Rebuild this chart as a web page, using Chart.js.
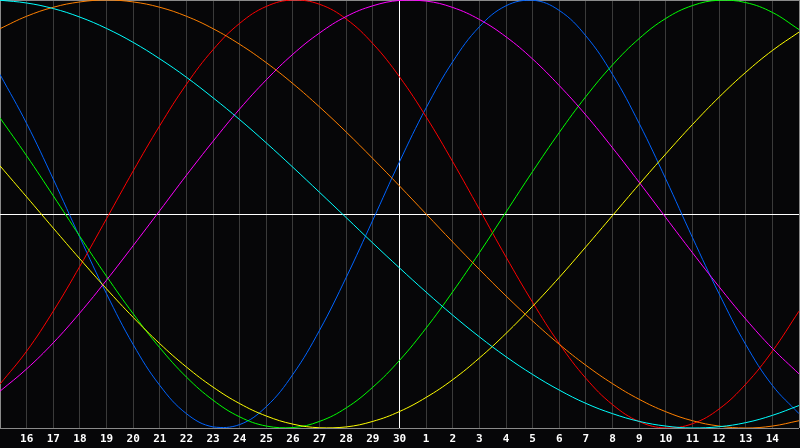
<!DOCTYPE html>
<html lang="en">

<head>
    <meta charset="UTF-8">
    <style>
        html, body { margin: 0; padding: 0; background: #060608; }
        #bio-chart { display: block; }
    </style>
</head>

<body>
    <script src="https://cdn.jsdelivr.net/npm/chart.js@4.4.1/dist/chart.umd.min.js"></script>
    <div style="width:800px;height:448px;">
        <canvas id="bio-chart" width="800" height="448"></canvas>
    </div>
</body>
<script>
    // day labels, 15th of one month to the 15th of the next
    var days = ["15", "16", "17", "18", "19", "20", "21", "22", "23", "24", "25", "26", "27", "28", "29", "30",
        "1", "2", "3", "4", "5", "6", "7", "8", "9", "10", "11", "12", "13", "14", "15"];
    var todayIndex = 15;

    // values, -100 .. 100, one per day
    var physical = [65.2, 42.3, 16.3, -11.0, -37.3, -61.0, -80.1, -93.3, -99.5, -98.4, -90.0, -74.9, -54.3, -29.6, -2.8, 24.4,
        49.6, 71.2, 87.5, 97.3, 99.9, 95.1, 83.2, 65.2, 42.3, 16.3, -11.0, -37.3, -61.0, -80.1, -93.3];
    var emotional = [-79.5, -64.1, -45.4, -24.4, -2.2, 20.1, 41.3, 60.6, 76.8, 89.1, 97.0, 100.0, 98.0, 91.1, 79.6, 64.1,
        45.4, 24.4, 2.2, -20.1, -41.3, -60.6, -76.8, -89.1, -97.0, -100.0, -98.0, -91.1, -79.5, -64.1, -45.4];
    var intellectual = [44.9, 27.2, 8.5, -10.5, -29.1, -46.6, -62.5, -76.2, -87.0, -94.8, -99.1, -99.8, -96.9, -90.6, -80.9, -68.4,
        -53.3, -36.3, -18.1, 0.9, 19.9, 38.1, 54.9, 69.7, 82.0, 91.4, 97.4, 99.9, 98.8, 94.2, 86.2];
    var intuitive = [-82.8, -72.4, -60.2, -46.2, -30.9, -14.8, 1.6, 18.1, 34.0, 49.1, 62.7, 74.7, 84.6, 92.3, 97.3, 99.8,
        99.5, 96.5, 90.9, 82.8, 72.4, 60.0, 46.2, 30.9, 14.8, -1.7, -18.1, -34.0, -49.1, -62.8, -74.7];
    var aesthetic = [22.5, 8.0, -6.6, -21.0, -35.0, -48.3, -60.6, -71.5, -80.9, -88.6, -94.4, -98.2, -99.9, -99.5, -96.9, -92.3,
        -85.7, -77.4, -67.3, -55.8, -43.1, -29.6, -15.3, -0.7, 13.9, 28.1, 41.8, 54.6, 66.2, 76.4, 85.0];
    var awareness = [86.6, 92.4, 96.6, 99.1, 100.0, 99.1, 96.6, 92.4, 86.6, 79.3, 70.7, 60.9, 50.0, 38.3, 25.9, 13.1,
        0.0, -13.1, -25.9, -38.3, -50.0, -60.9, -70.7, -79.3, -86.6, -92.4, -96.6, -99.1, -100.0, -99.1, -96.6];
    var spiritual = [99.9, 98.6, 96.0, 92.0, 86.7, 80.2, 72.5, 63.9, 54.3, 44.1, 33.2, 21.8, 10.1, -1.7, -13.6, -25.2,
        -36.5, -47.3, -57.4, -66.7, -75.0, -82.3, -88.5, -93.3, -96.9, -99.1, -100.0, -99.4, -97.5, -94.1, -89.5];

    var frameColor = "#8a8a8a";
    var gridColor = "#3a3a3a";

    function line(label, data, color) {
        return {
            label: label,
            data: data,
            borderColor: color,
            borderWidth: 1,
            pointRadius: 0,
            pointHoverRadius: 0,
            fill: false,
            tension: 0.4
        };
    }

    var ctx = document.getElementById("bio-chart").getContext("2d");
    var bioChart = new Chart(ctx, {
        type: "line",
        data: {
            labels: days,
            datasets: [
                line("spiritual", spiritual, "#00ffff"),
                line("awareness", awareness, "#ff8000"),
                line("aesthetic", aesthetic, "#ffff00"),
                line("intuitive", intuitive, "#ff00ff"),
                line("intellectual", intellectual, "#00ff00"),
                line("emotional", emotional, "#ff0000"),
                line("physical", physical, "#0064ff")
            ]
        },
        options: {
            responsive: false,
            animation: false,
            layout: { autoPadding: false, padding: { left: 0, right: 1, top: 0, bottom: 0 } },
            plugins: { legend: { display: false }, tooltip: { enabled: false } },
            scales: {
                x: {
                    offset: false,
                    border: { display: false },
                    grid: {
                        drawTicks: false,
                        color: function (c) {
                            var i = c.index;
                            if (i === 0 || i === days.length - 1) return frameColor;
                            if (i === todayIndex) return "#ffffff";
                            return gridColor;
                        }
                    },
                    ticks: {
                        autoSkip: false,
                        maxRotation: 0,
                        padding: 5,
                        color: "#ffffff",
                        font: { family: "DejaVu Sans Mono", size: 11, weight: "bold" },
                        callback: function (v, i) {
                            if (i === 0 || i === days.length - 1) return "";
                            return days[i];
                        }
                    },
                    afterFit: function (scale) {
                        scale.height = 20;
                        scale.paddingLeft = 0;
                        scale.paddingRight = 0;
                    }
                },
                y: {
                    min: -100,
                    max: 100,
                    border: { display: false },
                    grid: {
                        drawTicks: false,
                        color: function (c) {
                            if (c.tick.value === 0) return "#ffffff";
                            return frameColor;
                        }
                    },
                    ticks: { display: false, stepSize: 100 },
                    afterFit: function (scale) {
                        scale.width = 0;
                        scale.paddingTop = 0;
                        scale.paddingBottom = 0;
                    }
                }
            }
        }
    });
</script>

</html>
